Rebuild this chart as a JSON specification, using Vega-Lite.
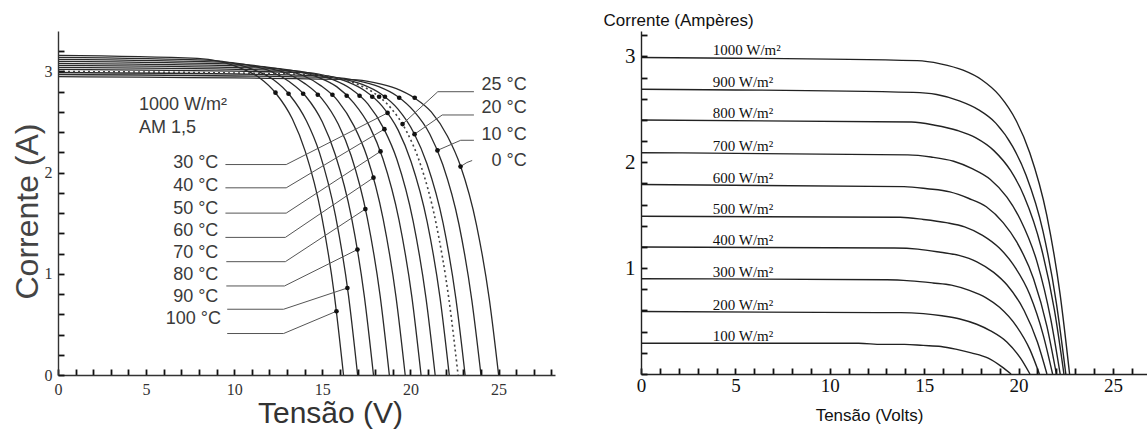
{
  "$schema": "https://vega.github.io/schema/vega-lite/v6.json",
  "background": "white",
  "padding": {"left": 11, "top": 11, "right": 0, "bottom": 4},
  "bounds": "flush",
  "spacing": 86,
  "config": {"view": {"stroke": null}, "axis": {"grid": false}, "font": "Liberation Sans"},
  "datasets": {
    "tempCurves": [
      {"temp":100,"V":0,"I":3.16},{"temp":100,"V":7.91,"I":3.13},{"temp":100,"V":9.16,"I":3.10},{"temp":100,"V":10.40,"I":3.03},{"temp":100,"V":11.41,"I":2.94},{"temp":100,"V":12.38,"I":2.78},{"temp":100,"V":13.30,"I":2.53},{"temp":100,"V":14.03,"I":2.21},{"temp":100,"V":14.95,"I":1.58},{"temp":100,"V":15.68,"I":0.79},{"temp":100,"V":16.2,"I":0},
      {"temp":90,"V":0,"I":3.14},{"temp":90,"V":8.71,"I":3.11},{"temp":90,"V":9.96,"I":3.08},{"temp":90,"V":11.20,"I":3.01},{"temp":90,"V":12.21,"I":2.92},{"temp":90,"V":13.18,"I":2.76},{"temp":90,"V":14.10,"I":2.51},{"temp":90,"V":14.83,"I":2.20},{"temp":90,"V":15.75,"I":1.57},{"temp":90,"V":16.48,"I":0.79},{"temp":90,"V":17.0,"I":0},
      {"temp":80,"V":0,"I":3.12},{"temp":80,"V":9.61,"I":3.09},{"temp":80,"V":10.86,"I":3.06},{"temp":80,"V":12.10,"I":3.00},{"temp":80,"V":13.11,"I":2.90},{"temp":80,"V":14.08,"I":2.75},{"temp":80,"V":15.00,"I":2.50},{"temp":80,"V":15.73,"I":2.18},{"temp":80,"V":16.65,"I":1.56},{"temp":80,"V":17.38,"I":0.78},{"temp":80,"V":17.9,"I":0},
      {"temp":70,"V":0,"I":3.10},{"temp":70,"V":10.51,"I":3.07},{"temp":70,"V":11.76,"I":3.04},{"temp":70,"V":13.00,"I":2.98},{"temp":70,"V":14.01,"I":2.88},{"temp":70,"V":14.98,"I":2.73},{"temp":70,"V":15.90,"I":2.48},{"temp":70,"V":16.63,"I":2.17},{"temp":70,"V":17.55,"I":1.55},{"temp":70,"V":18.28,"I":0.78},{"temp":70,"V":18.8,"I":0},
      {"temp":60,"V":0,"I":3.08},{"temp":60,"V":11.41,"I":3.05},{"temp":60,"V":12.66,"I":3.02},{"temp":60,"V":13.90,"I":2.96},{"temp":60,"V":14.91,"I":2.86},{"temp":60,"V":15.88,"I":2.71},{"temp":60,"V":16.80,"I":2.46},{"temp":60,"V":17.53,"I":2.16},{"temp":60,"V":18.45,"I":1.54},{"temp":60,"V":19.18,"I":0.77},{"temp":60,"V":19.7,"I":0},
      {"temp":50,"V":0,"I":3.06},{"temp":50,"V":12.31,"I":3.03},{"temp":50,"V":13.56,"I":3.00},{"temp":50,"V":14.80,"I":2.94},{"temp":50,"V":15.81,"I":2.85},{"temp":50,"V":16.78,"I":2.69},{"temp":50,"V":17.70,"I":2.45},{"temp":50,"V":18.43,"I":2.14},{"temp":50,"V":19.35,"I":1.53},{"temp":50,"V":20.08,"I":0.77},{"temp":50,"V":20.6,"I":0},
      {"temp":40,"V":0,"I":3.04},{"temp":40,"V":13.11,"I":3.01},{"temp":40,"V":14.36,"I":2.98},{"temp":40,"V":15.60,"I":2.92},{"temp":40,"V":16.61,"I":2.83},{"temp":40,"V":17.58,"I":2.68},{"temp":40,"V":18.50,"I":2.43},{"temp":40,"V":19.23,"I":2.13},{"temp":40,"V":20.15,"I":1.52},{"temp":40,"V":20.88,"I":0.76},{"temp":40,"V":21.4,"I":0},
      {"temp":30,"V":0,"I":3.02},{"temp":30,"V":13.91,"I":2.99},{"temp":30,"V":15.16,"I":2.96},{"temp":30,"V":16.40,"I":2.90},{"temp":30,"V":17.41,"I":2.81},{"temp":30,"V":18.38,"I":2.66},{"temp":30,"V":19.30,"I":2.42},{"temp":30,"V":20.03,"I":2.11},{"temp":30,"V":20.95,"I":1.51},{"temp":30,"V":21.68,"I":0.76},{"temp":30,"V":22.2,"I":0},
      {"temp":25,"V":0,"I":3.00},{"temp":25,"V":14.41,"I":2.97},{"temp":25,"V":15.66,"I":2.94},{"temp":25,"V":16.90,"I":2.88},{"temp":25,"V":17.91,"I":2.79},{"temp":25,"V":18.88,"I":2.64},{"temp":25,"V":19.80,"I":2.40},{"temp":25,"V":20.53,"I":2.10},{"temp":25,"V":21.45,"I":1.50},{"temp":25,"V":22.18,"I":0.75},{"temp":25,"V":22.7,"I":0},
      {"temp":20,"V":0,"I":2.99},{"temp":20,"V":14.81,"I":2.96},{"temp":20,"V":16.06,"I":2.93},{"temp":20,"V":17.30,"I":2.87},{"temp":20,"V":18.31,"I":2.78},{"temp":20,"V":19.28,"I":2.63},{"temp":20,"V":20.20,"I":2.39},{"temp":20,"V":20.93,"I":2.09},{"temp":20,"V":21.85,"I":1.50},{"temp":20,"V":22.58,"I":0.75},{"temp":20,"V":23.1,"I":0},
      {"temp":10,"V":0,"I":2.97},{"temp":10,"V":15.71,"I":2.94},{"temp":10,"V":16.96,"I":2.91},{"temp":10,"V":18.20,"I":2.85},{"temp":10,"V":19.21,"I":2.76},{"temp":10,"V":20.18,"I":2.61},{"temp":10,"V":21.10,"I":2.38},{"temp":10,"V":21.83,"I":2.08},{"temp":10,"V":22.75,"I":1.49},{"temp":10,"V":23.48,"I":0.74},{"temp":10,"V":24.0,"I":0},
      {"temp":0,"V":0,"I":2.95},{"temp":0,"V":16.71,"I":2.92},{"temp":0,"V":17.96,"I":2.89},{"temp":0,"V":19.20,"I":2.83},{"temp":0,"V":20.21,"I":2.74},{"temp":0,"V":21.18,"I":2.60},{"temp":0,"V":22.10,"I":2.36},{"temp":0,"V":22.83,"I":2.07},{"temp":0,"V":23.75,"I":1.48},{"temp":0,"V":24.48,"I":0.74},{"temp":0,"V":25.0,"I":0}
    ],
    "tempDots": [
      {"temp":100,"V":12.34,"I":2.79},{"temp":90,"V":13.08,"I":2.78},{"temp":80,"V":13.91,"I":2.78},{"temp":70,"V":14.74,"I":2.77},{"temp":60,"V":15.57,"I":2.77},{"temp":50,"V":16.38,"I":2.76},{"temp":40,"V":17.11,"I":2.76},{"temp":30,"V":17.83,"I":2.75},{"temp":25,"V":18.22,"I":2.75},{"temp":20,"V":18.55,"I":2.75},{"temp":10,"V":19.36,"I":2.74},{"temp":0,"V":20.24,"I":2.74},
      {"temp":30,"V":18.7,"I":2.59},{"temp":40,"V":18.52,"I":2.43},{"temp":50,"V":18.30,"I":2.21},{"temp":60,"V":17.90,"I":1.95},{"temp":70,"V":17.44,"I":1.64},{"temp":80,"V":16.99,"I":1.24},{"temp":90,"V":16.42,"I":0.86},{"temp":100,"V":15.80,"I":0.63},
      {"temp":25,"V":19.55,"I":2.48},{"temp":20,"V":20.23,"I":2.38},{"temp":10,"V":21.53,"I":2.22},{"temp":0,"V":22.84,"I":2.06}
    ],
    "leaders": [
      {"lbl":"30","k":0,"V":9.5,"I":2.08},{"lbl":"30","k":1,"V":12.95,"I":2.08},{"lbl":"30","k":2,"V":18.7,"I":2.59},
      {"lbl":"40","k":0,"V":9.5,"I":1.85},{"lbl":"40","k":1,"V":12.95,"I":1.85},{"lbl":"40","k":2,"V":18.52,"I":2.43},
      {"lbl":"50","k":0,"V":9.5,"I":1.60},{"lbl":"50","k":1,"V":12.95,"I":1.60},{"lbl":"50","k":2,"V":18.30,"I":2.21},
      {"lbl":"60","k":0,"V":9.5,"I":1.36},{"lbl":"60","k":1,"V":12.9,"I":1.36},{"lbl":"60","k":2,"V":17.90,"I":1.95},
      {"lbl":"70","k":0,"V":9.55,"I":1.12},{"lbl":"70","k":1,"V":12.9,"I":1.12},{"lbl":"70","k":2,"V":17.44,"I":1.64},
      {"lbl":"80","k":0,"V":9.55,"I":0.88},{"lbl":"80","k":1,"V":12.85,"I":0.88},{"lbl":"80","k":2,"V":16.99,"I":1.24},
      {"lbl":"90","k":0,"V":9.6,"I":0.65},{"lbl":"90","k":1,"V":12.8,"I":0.65},{"lbl":"90","k":2,"V":16.42,"I":0.86},
      {"lbl":"100","k":0,"V":9.6,"I":0.41},{"lbl":"100","k":1,"V":12.8,"I":0.41},{"lbl":"100","k":2,"V":15.80,"I":0.63},
      {"lbl":"25","k":0,"V":23.6,"I":2.80},{"lbl":"25","k":1,"V":21.55,"I":2.80},{"lbl":"25","k":2,"V":19.55,"I":2.48},
      {"lbl":"20","k":0,"V":23.6,"I":2.57},{"lbl":"20","k":1,"V":21.8,"I":2.57},{"lbl":"20","k":2,"V":20.23,"I":2.38},
      {"lbl":"10","k":0,"V":23.6,"I":2.32},{"lbl":"10","k":1,"V":22.85,"I":2.32},{"lbl":"10","k":2,"V":21.53,"I":2.22},
      {"lbl":"0","k":0,"V":23.5,"I":2.12},{"lbl":"0","k":1,"V":23.2,"I":2.10},{"lbl":"0","k":2,"V":22.84,"I":2.06}
    ],
    "tempLabels": [
      {"txt":"30 °C","V":9.1,"I":2.10},{"txt":"40 °C","V":9.1,"I":1.87},{"txt":"50 °C","V":9.1,"I":1.64},{"txt":"60 °C","V":9.1,"I":1.42},
      {"txt":"70 °C","V":9.1,"I":1.21},{"txt":"80 °C","V":9.1,"I":0.99},{"txt":"90 °C","V":9.1,"I":0.77},{"txt":"100 °C","V":9.25,"I":0.55},
      {"txt":"25  °C","V":26.6,"I":2.87},{"txt":"20  °C","V":26.6,"I":2.64},{"txt":"10  °C","V":26.6,"I":2.37},{"txt":"0  °C","V":26.6,"I":2.12}
    ],
    "condLabels": [
      {"txt":"1000 W/m²","V":4.6,"I":2.67},{"txt":"AM 1,5","V":4.6,"I":2.44}
    ],
    "irrCurves": [
      {"G":1000,"V":0,"I":2.99},{"G":1000,"V":14.63,"I":2.96},{"G":1000,"V":15.86,"I":2.93},{"G":1000,"V":17.06,"I":2.87},{"G":1000,"V":18.04,"I":2.78},{"G":1000,"V":18.99,"I":2.63},{"G":1000,"V":19.88,"I":2.39},{"G":1000,"V":20.59,"I":2.09},{"G":1000,"V":21.49,"I":1.50},{"G":1000,"V":22.20,"I":0.75},{"G":1000,"V":22.7,"I":0},
      {"G":900,"V":0,"I":2.69},{"G":900,"V":14.43,"I":2.66},{"G":900,"V":15.66,"I":2.64},{"G":900,"V":16.86,"I":2.58},{"G":900,"V":17.84,"I":2.50},{"G":900,"V":18.79,"I":2.37},{"G":900,"V":19.68,"I":2.15},{"G":900,"V":20.39,"I":1.88},{"G":900,"V":21.29,"I":1.35},{"G":900,"V":22.00,"I":0.67},{"G":900,"V":22.5,"I":0},
      {"G":800,"V":0,"I":2.40},{"G":800,"V":14.33,"I":2.38},{"G":800,"V":15.56,"I":2.35},{"G":800,"V":16.76,"I":2.30},{"G":800,"V":17.74,"I":2.23},{"G":800,"V":18.69,"I":2.11},{"G":800,"V":19.58,"I":1.92},{"G":800,"V":20.29,"I":1.68},{"G":800,"V":21.19,"I":1.20},{"G":800,"V":21.90,"I":0.60},{"G":800,"V":22.4,"I":0},
      {"G":700,"V":0,"I":2.09},{"G":700,"V":14.13,"I":2.07},{"G":700,"V":15.36,"I":2.05},{"G":700,"V":16.56,"I":2.01},{"G":700,"V":17.54,"I":1.94},{"G":700,"V":18.49,"I":1.84},{"G":700,"V":19.38,"I":1.67},{"G":700,"V":20.09,"I":1.46},{"G":700,"V":20.99,"I":1.05},{"G":700,"V":21.70,"I":0.52},{"G":700,"V":22.2,"I":0},
      {"G":600,"V":0,"I":1.79},{"G":600,"V":13.93,"I":1.77},{"G":600,"V":15.16,"I":1.75},{"G":600,"V":16.36,"I":1.72},{"G":600,"V":17.34,"I":1.66},{"G":600,"V":18.29,"I":1.58},{"G":600,"V":19.18,"I":1.43},{"G":600,"V":19.89,"I":1.25},{"G":600,"V":20.79,"I":0.90},{"G":600,"V":21.50,"I":0.45},{"G":600,"V":22.0,"I":0},
      {"G":500,"V":0,"I":1.49},{"G":500,"V":13.73,"I":1.48},{"G":500,"V":14.96,"I":1.46},{"G":500,"V":16.16,"I":1.43},{"G":500,"V":17.14,"I":1.39},{"G":500,"V":18.09,"I":1.31},{"G":500,"V":18.98,"I":1.19},{"G":500,"V":19.69,"I":1.04},{"G":500,"V":20.59,"I":0.75},{"G":500,"V":21.30,"I":0.37},{"G":500,"V":21.8,"I":0},
      {"G":400,"V":0,"I":1.20},{"G":400,"V":13.43,"I":1.19},{"G":400,"V":14.66,"I":1.18},{"G":400,"V":15.86,"I":1.15},{"G":400,"V":16.84,"I":1.12},{"G":400,"V":17.79,"I":1.06},{"G":400,"V":18.68,"I":0.96},{"G":400,"V":19.39,"I":0.84},{"G":400,"V":20.29,"I":0.60},{"G":400,"V":21.00,"I":0.30},{"G":400,"V":21.5,"I":0},
      {"G":300,"V":0,"I":0.90},{"G":300,"V":13.03,"I":0.89},{"G":300,"V":14.26,"I":0.88},{"G":300,"V":15.46,"I":0.86},{"G":300,"V":16.44,"I":0.84},{"G":300,"V":17.39,"I":0.79},{"G":300,"V":18.28,"I":0.72},{"G":300,"V":18.99,"I":0.63},{"G":300,"V":19.89,"I":0.45},{"G":300,"V":20.60,"I":0.23},{"G":300,"V":21.1,"I":0},
      {"G":200,"V":0,"I":0.59},{"G":200,"V":12.53,"I":0.58},{"G":200,"V":13.76,"I":0.58},{"G":200,"V":14.96,"I":0.57},{"G":200,"V":15.94,"I":0.55},{"G":200,"V":16.89,"I":0.52},{"G":200,"V":17.78,"I":0.47},{"G":200,"V":18.49,"I":0.41},{"G":200,"V":19.39,"I":0.30},{"G":200,"V":20.10,"I":0.15},{"G":200,"V":20.6,"I":0},
      {"G":100,"V":0,"I":0.29},{"G":100,"V":11.53,"I":0.29},{"G":100,"V":12.76,"I":0.28},{"G":100,"V":13.96,"I":0.28},{"G":100,"V":14.94,"I":0.27},{"G":100,"V":15.89,"I":0.26},{"G":100,"V":16.78,"I":0.23},{"G":100,"V":17.49,"I":0.20},{"G":100,"V":18.39,"I":0.15},{"G":100,"V":19.10,"I":0.07},{"G":100,"V":19.6,"I":0}
    ],
    "irrLabels": [
      {"txt":"1000 W/m²","V":3.8,"I":2.99},{"txt":"900 W/m²","V":3.8,"I":2.69},{"txt":"800 W/m²","V":3.8,"I":2.40},{"txt":"700 W/m²","V":3.8,"I":2.09},{"txt":"600 W/m²","V":3.8,"I":1.79},
      {"txt":"500 W/m²","V":3.8,"I":1.49},{"txt":"400 W/m²","V":3.8,"I":1.20},{"txt":"300 W/m²","V":3.8,"I":0.90},{"txt":"200 W/m²","V":3.8,"I":0.59},{"txt":"100 W/m²","V":3.8,"I":0.29}
    ]
  },
  "hconcat": [
    {
      "width": 497,
      "height": 344,
      "encoding": {
        "x": {
          "field": "V", "type": "quantitative",
          "scale": {"domain": [0, 28.2], "nice": false, "zero": false},
          "axis": {
            "zindex": 1,
            "title": "Tensão (V)", "titleFont": "Liberation Sans", "titleFontSize": 30, "titleFontWeight": "normal", "titleColor": "#333",
            "titleX": 272, "titleY": 47, "titleAlign": "center", "titleBaseline": "alphabetic",
            "values": [0,1,2,3,4,5,6,7,8,9,10,11,12,13,14,15,16,17,18,19,20,21,22,23,24,25,26,27,28],
            "labelExpr": "datum.value % 5 === 0 ? format(datum.value, 'd') : ''",
            "labelFont": "Liberation Serif", "labelFontSize": 16, "labelColor": "#333", "labelPadding": 12,
            "labelOverlap": false, "labelFlush": false, "labelBaseline": "top",
            "tickSize": -6,
            "tickColor": "#111", "tickWidth": 1.8, "domainColor": "#333", "domainWidth": 1.4
          }
        },
        "y": {
          "field": "I", "type": "quantitative",
          "scale": {"domain": [0, 3.4], "nice": false, "zero": false},
          "axis": {
            "zindex": 1,
            "title": "Corrente (A)", "titleFont": "Liberation Sans", "titleFontSize": 32, "titleFontWeight": "normal", "titleColor": "#444",
            "titleAngle": 270, "titleX": -21, "titleY": 180, "titleAlign": "center", "titleBaseline": "alphabetic",
            "values": [0,0.2,0.4,0.6,0.8,1,1.2,1.4,1.6,1.8,2,2.2,2.4,2.6,2.8,3,3.2],
            "labelExpr": "datum.value % 1 === 0 ? format(datum.value, 'd') : ''",
            "labelFont": "Liberation Serif", "labelFontSize": 16, "labelColor": "#333", "labelPadding": 12,
            "labelOverlap": false, "labelFlush": false,
            "tickSize": -6,
            "tickColor": "#111", "tickWidth": 1.8, "domainColor": "#333", "domainWidth": 1.4
          }
        }
      },
      "layer": [
        {
          "data": {"name": "tempCurves"},
          "transform": [{"filter": "datum.temp !== 25"}],
          "mark": {"type": "line", "interpolate": "monotone", "color": "#2a2a2a", "strokeWidth": 1.3},
          "encoding": {"detail": {"field": "temp", "type": "nominal"}, "order": {"field": "V", "type": "quantitative"}}
        },
        {
          "data": {"name": "tempCurves"},
          "transform": [{"filter": "datum.temp === 25"}],
          "mark": {"type": "line", "interpolate": "monotone", "color": "#444", "strokeWidth": 1.6, "strokeDash": [2, 3]},
          "encoding": {"order": {"field": "V", "type": "quantitative"}}
        },
        {
          "data": {"name": "leaders"},
          "mark": {"type": "line", "color": "#555", "strokeWidth": 1},
          "encoding": {"detail": {"field": "lbl", "type": "nominal"}, "order": {"field": "k", "type": "quantitative"}}
        },
        {
          "data": {"name": "tempDots"},
          "mark": {"type": "point", "filled": true, "color": "#111", "size": 22, "opacity": 1}
        },
        {
          "data": {"name": "tempLabels"},
          "mark": {"type": "text", "align": "right", "baseline": "middle", "font": "Liberation Sans", "fontSize": 18, "color": "#3a3a3a"},
          "encoding": {"text": {"field": "txt", "type": "nominal"}}
        },
        {
          "data": {"name": "condLabels"},
          "mark": {"type": "text", "align": "left", "baseline": "middle", "font": "Liberation Sans", "fontSize": 18, "color": "#3a3a3a"},
          "encoding": {"text": {"field": "txt", "type": "nominal"}}
        }
      ]
    },
    {
      "width": 506,
      "height": 343,
      "encoding": {
        "x": {
          "field": "V", "type": "quantitative",
          "scale": {"domain": [0, 26.8], "nice": false, "zero": false},
          "axis": {
            "zindex": 1,
            "title": "Tensão  (Volts)", "titleFont": "Liberation Sans", "titleFontSize": 17, "titleFontWeight": "normal", "titleColor": "#111",
            "titleX": 228, "titleY": 46, "titleAlign": "center", "titleBaseline": "alphabetic",
            "values": [0,1,2,3,4,5,6,7,8,9,10,11,12,13,14,15,16,17,18,19,20,21,22,23,24,25,26],
            "labelExpr": "datum.value % 5 === 0 ? format(datum.value, 'd') : ''",
            "labelFont": "Liberation Serif", "labelFontSize": 19, "labelColor": "#111", "labelPadding": 8,
            "labelOverlap": false, "labelFlush": false, "labelBaseline": "top",
            "tickSize": -6,
            "tickColor": "#111", "tickWidth": 1.8, "domainColor": "#222", "domainWidth": 1.4
          }
        },
        "y": {
          "field": "I", "type": "quantitative",
          "scale": {"domain": [0, 3.24], "nice": false, "zero": false},
          "axis": {
            "zindex": 1,
            "title": "Corrente (Ampères)", "titleFont": "Liberation Sans", "titleFontSize": 17, "titleFontWeight": "normal", "titleColor": "#111",
            "titleAngle": 0, "titleX": -38, "titleY": -11, "titleAlign": "left", "titleBaseline": "middle",
            "values": [0,0.2,0.4,0.6,0.8,1,1.2,1.4,1.6,1.8,2,2.2,2.4,2.6,2.8,3,3.2],
            "labelExpr": "datum.value % 1 === 0 && datum.value > 0 ? format(datum.value, 'd') : ''",
            "labelFont": "Liberation Serif", "labelFontSize": 21, "labelColor": "#111", "labelPadding": 12,
            "labelOverlap": false, "labelFlush": false,
            "tickSize": -6,
            "tickColor": "#111", "tickWidth": 1.8, "domainColor": "#222", "domainWidth": 1.4
          }
        }
      },
      "layer": [
        {
          "data": {"name": "irrCurves"},
          "mark": {"type": "line", "interpolate": "monotone", "color": "#222", "strokeWidth": 1.4},
          "encoding": {"detail": {"field": "G", "type": "nominal"}, "order": {"field": "V", "type": "quantitative"}}
        },
        {
          "data": {"name": "irrLabels"},
          "mark": {"type": "text", "align": "left", "baseline": "alphabetic", "dy": -2, "font": "Liberation Serif", "fontSize": 15, "color": "#111"},
          "encoding": {"text": {"field": "txt", "type": "nominal"}}
        }
      ]
    }
  ]
}
